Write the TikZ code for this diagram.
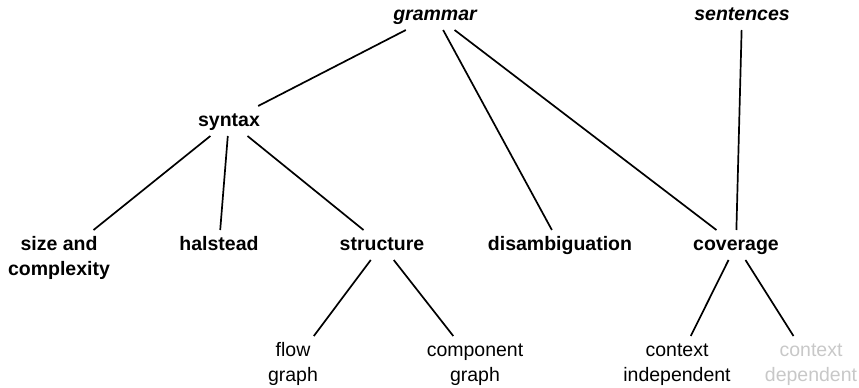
\documentclass[tikz,border=0pt]{standalone}
\usepackage{fontspec}
\setmainfont{Liberation Sans}
\definecolor{faded}{RGB}{200,200,200}
\tikzset{
  lbl/.style={inner sep=0pt, outer sep=6pt, font=\fontsize{19.5}{25.5}\selectfont},
  one/.style={lbl, text height=14pt, text depth=4pt, anchor=base},
  two/.style={lbl, align=center, anchor=north},
  strong/.style={font=\fontsize{19.5}{25.5}\selectfont\bfseries},
  emph/.style={font=\fontsize{19.5}{25.5}\selectfont\bfseries\itshape},
  edge/.style={line width=1.7pt}
}
\newcommand{\firstline}{\rule{0pt}{14pt}}
\begin{document}
\begin{tikzpicture}[x=1pt, y=-1pt]
  \useasboundingbox (0,0) rectangle (859,388);
  % top level
  \node[one, emph] (grammar) at (435,20) {grammar};
  \node[one, emph] (sentences) at (742,20) {sentences};
  % second level
  \node[one, strong] (syntax) at (229,126) {syntax};
  % third level
  \node[two, strong] (size) at (59,230) {\firstline size and\\complexity};
  \node[one, strong] (halstead) at (219,250) {halstead};
  \node[one, strong] (structure) at (382,250) {structure};
  \node[one, strong] (disamb) at (560,250) {disambiguation};
  \node[one, strong] (coverage) at (736,250) {coverage};
  % leaves
  \node[two] (flow) at (293,336) {\firstline flow\\graph};
  \node[two] (component) at (475,336) {\firstline component\\graph};
  \node[two] (indep) at (677,336) {\firstline context\\independent};
  \node[two, text=faded] (dep) at (811,336) {\firstline context\\dependent};
  % connectors
  \draw[edge] (grammar) -- (syntax);
  \draw[edge] (grammar) -- (disamb);
  \draw[edge] (grammar) -- (coverage);
  \draw[edge] (sentences) -- (coverage);
  \draw[edge] (syntax) -- (size);
  \draw[edge] (syntax) -- (halstead);
  \draw[edge] (syntax) -- (structure);
  \draw[edge] (structure) -- (flow);
  \draw[edge] (structure) -- (component);
  \draw[edge] (coverage) -- (indep);
  \draw[edge] (coverage) -- (dep);
\end{tikzpicture}
\end{document}
